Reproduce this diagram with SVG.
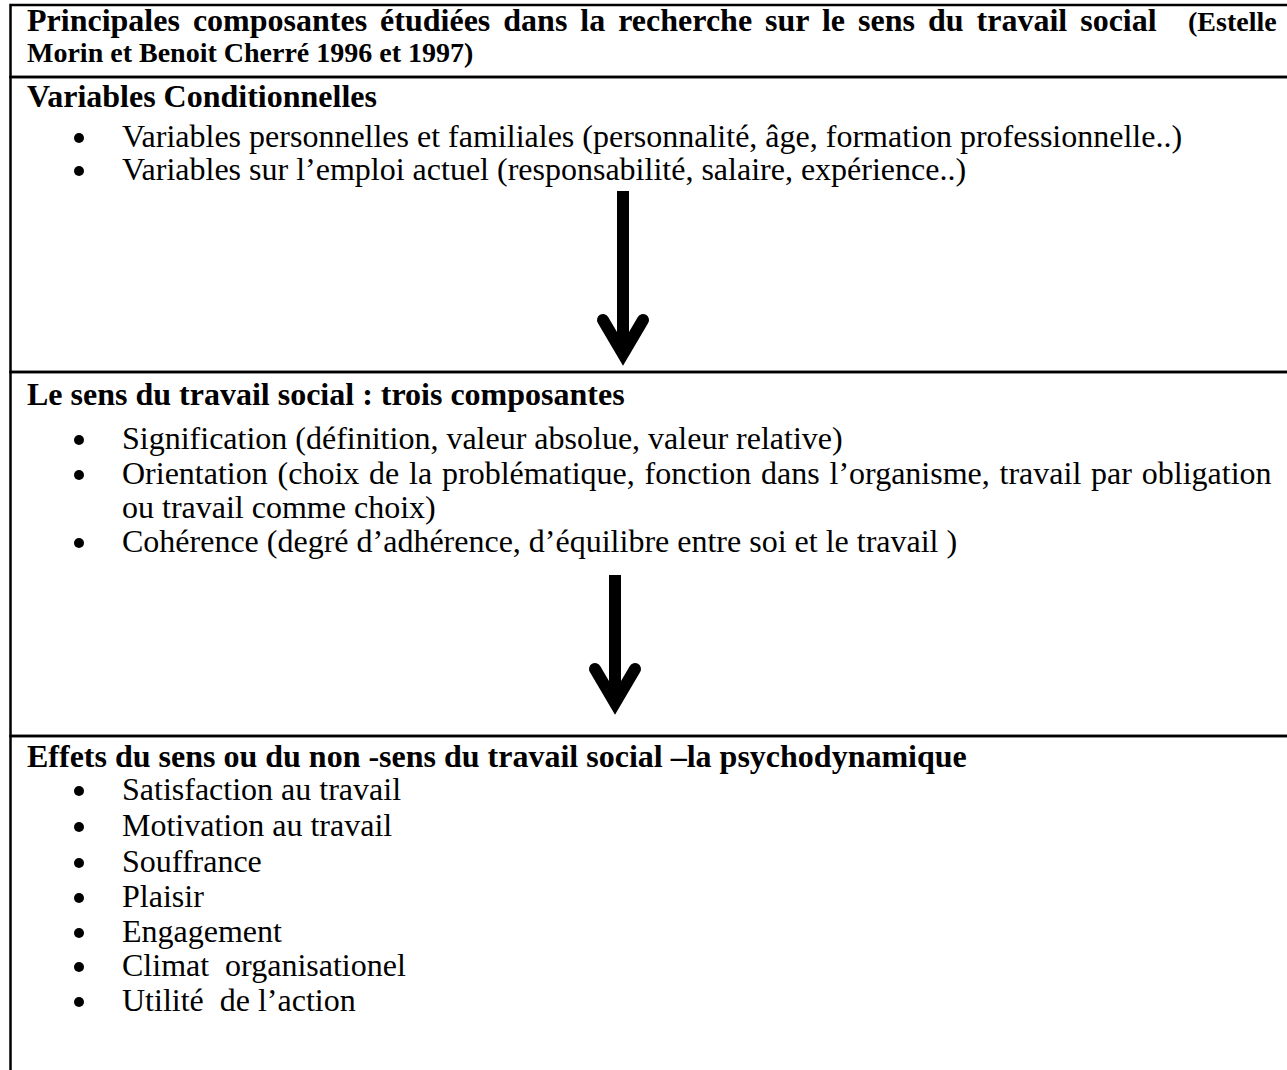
<svg xmlns="http://www.w3.org/2000/svg" width="1287" height="1070" viewBox="0 0 1287 1070">
<style>
  .box { fill: none; stroke: #000; stroke-width: 2.5; }
  .t { font-family: "Liberation Serif", "Times New Roman", serif; font-size: 32px; fill: #000; }
  .b { font-weight: bold; }
  .cite { font-size: 28px; }
  .dot { fill: #000; }
  .shaft { stroke: #000; stroke-width: 12; fill: none; }
</style>
<defs>
  <marker id="chev" markerUnits="userSpaceOnUse" markerWidth="60" markerHeight="60" viewBox="-50 -30 60 60" refX="0" refY="0" orient="auto" overflow="visible">
    <path d="M -34 -20 L 0 0 L -34 20" fill="none" stroke="#000" stroke-width="12" stroke-linecap="round" stroke-linejoin="miter"/>
  </marker>
</defs>
<rect width="1287" height="1070" fill="#fff"/>

<g id="title">
  <rect class="box" x="10.5" y="5" width="1290" height="72"/>
  <text class="t b" x="27" y="31" style="word-spacing:5px">Principales composantes étudiées dans la recherche sur le sens du travail social</text>
  <text class="t b cite" x="1188" y="31">(Estelle</text>
  <text class="t b cite" x="27" y="62">Morin et Benoit Cherré 1996 et 1997)</text>
</g>

<g id="variables-conditionnelles">
  <rect class="box" x="10.5" y="77" width="1290" height="295"/>
  <text class="t b" x="27" y="107">Variables Conditionnelles</text>
  <circle class="dot" cx="79" cy="138" r="5"/>
  <text class="t" x="122" y="147">Variables personnelles et familiales (personnalité, âge, formation professionnelle..)</text>
  <circle class="dot" cx="79" cy="171" r="5"/>
  <text class="t" x="122" y="180">Variables sur l’emploi actuel (responsabilité, salaire, expérience..)</text>
</g>

<g id="sens-du-travail">
  <rect class="box" x="10.5" y="372" width="1290" height="364"/>
  <text class="t b" x="27" y="405">Le sens du travail social : trois composantes</text>
  <circle class="dot" cx="79" cy="440" r="5"/>
  <text class="t" x="122" y="449">Signification (définition, valeur absolue, valeur relative)</text>
  <circle class="dot" cx="79" cy="475" r="5"/>
  <text class="t" x="122" y="484" style="word-spacing:1.8px">Orientation (choix de la problématique, fonction dans l’organisme, travail par obligation</text>
  <text class="t" x="122" y="518">ou travail comme choix)</text>
  <circle class="dot" cx="79" cy="543" r="5"/>
  <text class="t" x="122" y="552">Cohérence (degré d’adhérence, d’équilibre entre soi et le travail )</text>
</g>

<g id="effets">
  <rect class="box" x="10.5" y="736" width="1290" height="400"/>
  <text class="t b" x="27" y="767">Effets du sens ou du non -sens du travail social –la psychodynamique</text>
  <circle class="dot" cx="79" cy="791" r="5"/>
  <text class="t" x="122" y="800">Satisfaction au travail</text>
  <circle class="dot" cx="79" cy="827" r="5"/>
  <text class="t" x="122" y="836">Motivation au travail</text>
  <circle class="dot" cx="79" cy="863" r="5"/>
  <text class="t" x="122" y="872">Souffrance</text>
  <circle class="dot" cx="79" cy="898" r="5"/>
  <text class="t" x="122" y="907">Plaisir</text>
  <circle class="dot" cx="79" cy="933" r="5"/>
  <text class="t" x="122" y="942">Engagement</text>
  <circle class="dot" cx="79" cy="967" r="5"/>
  <text class="t" x="122" y="976" xml:space="preserve">Climat  organisationel</text>
  <circle class="dot" cx="79" cy="1002" r="5"/>
  <text class="t" x="122" y="1011" xml:space="preserve">Utilité  de l’action</text>
</g>

<g id="connectors">
  <line class="shaft" x1="623" y1="191" x2="623" y2="354" marker-end="url(#chev)"/>
  <line class="shaft" x1="615" y1="575" x2="615" y2="703" marker-end="url(#chev)"/>
</g>
</svg>
